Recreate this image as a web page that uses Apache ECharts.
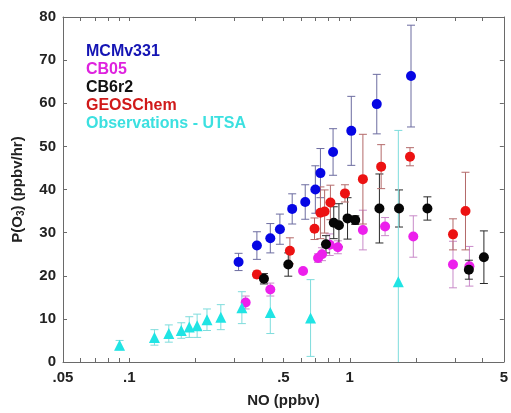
<!DOCTYPE html>
<html>
<head>
<meta charset="utf-8">
<script src="https://cdn.jsdelivr.net/npm/echarts@6/dist/echarts.min.js"></script>
<style>
  html, body { margin: 0; padding: 0; background: #fff; }
  #chart { width: 511px; height: 413px; }
</style>
</head>
<body>
<div id="chart"></div>
<script>
// x tick positions (NO, ppbv) and their labels
const xMajorTicks = [0.05, 0.1, 0.5, 1, 5]
const xMajorLabels = ['.05', '.1', '.5', '1', '5']
const xMinorTicks = [0.06, 0.07, 0.08, 0.09, 0.2, 0.3, 0.4, 0.6, 0.7, 0.8, 0.9, 2, 3, 4]

const seriesNames = ['MCMv331', 'CB05', 'CB6r2', 'GEOSChem', 'Observations - UTSA']

// MCMv331
const mcmNO = [0.313, 0.379, 0.436, 0.482, 0.548, 0.628, 0.698, 0.736, 0.84, 1.016, 1.326, 1.896]
const mcmPO3 = [23.2, 27.0, 28.7, 30.8, 35.5, 37.1, 40.0, 43.8, 48.7, 53.6, 59.8, 66.3]
const mcmErr = [2.0, 3.2, 3.4, 3.5, 3.5, 4.0, 5.5, 5.7, 5.4, 8.0, 6.9, 11.8]

// CB05
const cb05NO = [0.337, 0.436, 0.614, 0.718, 0.748, 0.811, 0.883, 1.147, 1.446, 1.942, 2.94, 3.49]
const cb05PO3 = [13.8, 16.8, 21.1, 24.1, 25.0, 27.2, 26.6, 30.6, 31.4, 29.1, 22.6, 22.2]
const cb05Err = [1.5, 1.5, 0.5, 1.0, 1.5, 2.5, 1.5, 4.6, 2.1, 4.8, 5.4, 4.6]

// CB6r2
const cb6NO = [0.408, 0.526, 0.780, 0.846, 0.893, 0.977, 1.059, 1.363, 1.673, 2.25, 3.47, 4.06]
const cb6PO3 = [19.3, 22.6, 27.3, 32.3, 31.7, 33.3, 32.9, 35.6, 35.6, 35.6, 21.4, 24.3]
const cb6Err = [1.2, 2.7, 2.0, 3.7, 5.0, 4.8, 1.0, 8.0, 4.3, 2.7, 2.2, 6.1]

// GEOSChem
const geosNO = [0.379, 0.535, 0.692, 0.736, 0.769, 0.817, 0.951, 1.147, 1.388, 1.876, 2.94, 3.35]
const geosPO3 = [20.3, 25.8, 30.9, 34.6, 34.9, 37.0, 39.1, 42.4, 45.3, 47.6, 29.6, 35.0]
const geosErr = [0.8, 3.0, 2.5, 6.0, 5.0, 4.0, 2.0, 10.4, 5.1, 2.1, 3.6, 9.0]

// Observations - UTSA
const obsNO = [0.0903, 0.130, 0.151, 0.172, 0.187, 0.203, 0.225, 0.260, 0.324, 0.436, 0.664, 1.661]
const obsPO3 = [3.9, 5.7, 6.6, 7.3, 8.1, 8.4, 9.8, 10.4, 12.6, 11.5, 10.2, 18.6]
const obsErr = [1.1, 1.8, 2.0, 1.8, 2.4, 2.7, 2.5, 2.9, 3.7, 4.9, 8.9, 35.1]

const markColor = ['#0606e4', '#ec20ec', '#060606', '#ec1212', '#20e4e4']
const errColor = ['#6c6ca0', '#c98ac9', '#2a2a2a', '#b46a6a', '#7edcdc']
const textColor = ['#1414b4', '#de22de', '#111111', '#d01a1a', '#3ce0e0']

const fontFamily = '"Liberation Sans", Arial, Helvetica, sans-serif'

// x axis works on log10(NO)
const lg = (v) => Math.log10(v)

function buildRows(xs, ys, es) {
  return xs.map((x, i) => [lg(x), ys[i], es[i]])
}

function errorBar(params, api) {
  const x = api.value(0)
  const y = api.value(1)
  const e = api.value(2)
  const color = errColor[params.seriesIndex]
  const lowVal = Math.max(y - e, 0)
  const hi = api.coord([x, y + e])
  const lo = api.coord([x, lowVal])
  const w = 4
  const style = { stroke: color, lineWidth: 1 }
  const children = [
    { type: 'line', shape: { x1: hi[0], y1: hi[1], x2: lo[0], y2: lo[1] }, style },
    { type: 'line', shape: { x1: hi[0] - w, y1: hi[1], x2: hi[0] + w, y2: hi[1] }, style }
  ]
  if (y - e >= 0) {
    children.push({ type: 'line', shape: { x1: lo[0] - w, y1: lo[1], x2: lo[0] + w, y2: lo[1] }, style })
  }
  return { type: 'group', children }
}

function initChart() {
  const myChart = echarts.init(document.getElementById('chart'))
  const sets = [
    buildRows(mcmNO, mcmPO3, mcmErr),
    buildRows(cb05NO, cb05PO3, cb05Err),
    buildRows(cb6NO, cb6PO3, cb6Err),
    buildRows(geosNO, geosPO3, geosErr),
    buildRows(obsNO, obsPO3, obsErr)
  ]

  const series = []
  // error bars first (index == dataset index)
  sets.forEach((rows, i) => {
    series.push({
      type: 'custom',
      name: seriesNames[i],
      renderItem: errorBar,
      encode: { x: 0, y: 1 },
      data: rows,
      z: 2,
      silent: true
    })
  })
  // markers, black drawn over magenta and red
  const drawOrder = [0, 1, 3, 2, 4]
  drawOrder.forEach((i) => {
    series.push({
      type: 'scatter',
      name: seriesNames[i],
      symbol: i === 4 ? 'triangle' : 'circle',
      symbolSize: i === 4 ? 11 : 10,
      itemStyle: { color: markColor[i], opacity: 1 },
      data: sets[i].map((r) => [r[0], r[1]]),
      z: 3,
      silent: true
    })
  })

  const allTicks = xMajorTicks.concat(xMinorTicks).map(lg)
  const axisLineStyle = { color: '#6a6a6a', width: 1 }

  const option = {
    animation: false,
    grid: { left: 63, right: 4, top: 17, bottom: 47, containLabel: false },
    legend: {
      orient: 'vertical',
      left: 81,
      top: 44,
      padding: 0,
      icon: 'none',
      itemWidth: 0,
      itemHeight: 10,
      itemGap: 2,
      selectedMode: false,
      textStyle: { fontSize: 16, fontWeight: 'bold', fontFamily, lineHeight: 16 },
      data: seriesNames.map((n, i) => ({ name: n, textStyle: { color: textColor[i] } }))
    },
    xAxis: [
      {
        type: 'value',
        position: 'bottom',
        min: lg(0.05),
        max: lg(5),
        axisLine: { show: true, onZero: false, lineStyle: axisLineStyle },
        axisTick: { show: true, inside: true, length: 4, customValues: allTicks, lineStyle: axisLineStyle },
        axisLabel: {
          customValues: xMajorTicks.map(lg),
          margin: 8,
          color: '#222',
          fontSize: 15,
          fontWeight: 'bold',
          fontFamily,
          formatter: (v) => {
            const i = xMajorTicks.findIndex((t) => Math.abs(lg(t) - v) < 1e-6)
            return i >= 0 ? xMajorLabels[i] : ''
          }
        },
        splitLine: { show: false },
        name: 'NO (ppbv)',
        nameLocation: 'middle',
        nameGap: 31,
        nameTextStyle: { color: '#222', fontSize: 15, fontWeight: 'bold', fontFamily }
      },
      {
        type: 'value',
        position: 'top',
        min: lg(0.05),
        max: lg(5),
        axisLine: { show: true, onZero: false, lineStyle: axisLineStyle },
        axisTick: { show: true, inside: true, length: 4, customValues: allTicks, lineStyle: axisLineStyle },
        axisLabel: { show: false },
        splitLine: { show: false }
      }
    ],
    yAxis: [
      {
        type: 'value',
        position: 'left',
        min: 0,
        max: 80,
        interval: 10,
        axisLine: { show: true, onZero: false, lineStyle: axisLineStyle },
        axisTick: { show: true, inside: true, length: 4, lineStyle: axisLineStyle },
        axisLabel: { margin: 7, color: '#222', fontSize: 15, fontWeight: 'bold', fontFamily },
        splitLine: { show: false },
        name: 'P(O{sub|3}) (ppbv/hr)',
        nameLocation: 'middle',
        nameRotate: 90,
        nameGap: 37,
        nameTextStyle: {
          color: '#222',
          fontSize: 15,
          fontWeight: 'bold',
          fontFamily,
          rich: {
            sub: { fontSize: 10, fontWeight: 'bold', fontFamily, color: '#222', verticalAlign: 'bottom', padding: [6, 0, 0, 0] }
          }
        }
      },
      {
        type: 'value',
        position: 'right',
        min: 0,
        max: 80,
        interval: 10,
        axisLine: { show: true, onZero: false, lineStyle: axisLineStyle },
        axisTick: { show: true, inside: true, length: 4, lineStyle: axisLineStyle },
        axisLabel: { show: false },
        splitLine: { show: false }
      }
    ],
    series: series
  }

  myChart.setOption(option, true)
}

initChart()
</script>
</body>
</html>
